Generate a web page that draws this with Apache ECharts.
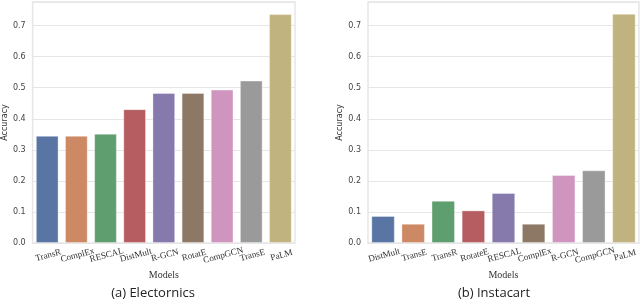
<!DOCTYPE html>
<html>
<head>
<meta charset="utf-8">
<script src="https://cdn.jsdelivr.net/npm/echarts@6/dist/echarts.min.js"></script>
<style>html,body{margin:0;padding:0;background:#fff}#c{width:640px;height:300px}</style>
</head>
<body>
<div id="c"></div>
<script>
const catsA = ['TransR','ComplEx','RESCAL','DistMult','R-GCN','RotatE','CompGCN','TransE','PaLM'];
const valsA = [0.345, 0.345, 0.352, 0.431, 0.483, 0.483, 0.494, 0.523, 0.737];
const catsB = ['DistMult','TransE','TransR','RotateE','RESCAL','ComplEx','R-GCN','CompGCN','PaLM'];
const valsB = [0.087, 0.062, 0.136, 0.105, 0.161, 0.062, 0.219, 0.234, 0.738];
const yTicks = [0,0.1,0.2,0.3,0.4,0.5,0.6,0.7];
const palette = ['#5975a4','#cc8963','#5f9e6e','#b55d60','#857aab','#8d7866','#d095bf','#9a9a9a','#c1b37f'];
const captions = ['(a) Electornics','(b) Instacart'];

const chart = echarts.init(document.getElementById('c'));
const grids = [
  {left:25, right:345, top:2, bottom:57, show:true, borderColor:'#e6e6e6', borderWidth:1.5, backgroundColor:'#fff'},
  {left:368, right:1, top:2, bottom:57, show:true, borderColor:'#e6e6e6', borderWidth:1.5, backgroundColor:'#fff'}
];
function xAx(i, cats){
  return {type:'category', gridIndex:i, data:cats,
    name:'Models', nameLocation:'middle', nameGap:21,
    nameTextStyle:{fontFamily:'Liberation Serif', fontSize:10, color:'#333'},
    axisLine:{show:false}, axisTick:{show:false},
    axisLabel:{interval:0, rotate:15, align:'center', verticalAlign:'top', margin:8,
      fontFamily:'Liberation Serif', fontSize:9, color:'#333'}};
}
function yAx(i, gap){
  return {type:'value', gridIndex:i, min:0, max:0.776, interval:0.1,
    name:'Accuracy', nameLocation:'middle', nameGap:gap,
    nameTextStyle:{fontFamily:'DejaVu Sans', fontSize:8, color:'#333'},
    axisLine:{show:false}, axisTick:{show:false},
    splitLine:{lineStyle:{color:'#e6e6e6', width:1}},
    axisLabel:{margin:7, fontFamily:'DejaVu Sans', fontSize:8, color:'#444',
      formatter:v => yTicks.some(t=>Math.abs(t-v)<1e-9) ? v.toFixed(1) : '',
      showMaxLabel:false}};
}
function ser(i, vals){
  return {type:'bar', xAxisIndex:i, yAxisIndex:i, barWidth:'78%',
    data: vals.map((v,k)=>({value:v, itemStyle:{color:palette[k]}})),
    itemStyle:{borderColor:'rgba(255,255,255,0.35)', borderWidth:1}};
}
chart.setOption({
  animation:false,
  title:[
    {text:captions[0], left:148, top:282, textAlign:'center', textStyle:{fontFamily:'Open Sans', fontSize:13, fontWeight:'normal', color:'#222'}},
    {text:captions[1], left:489, top:282, textAlign:'center', textStyle:{fontFamily:'Open Sans', fontSize:13, fontWeight:'normal', color:'#222'}}
  ],
  grid:grids,
  xAxis:[xAx(0,catsA), xAx(1,catsB)],
  yAxis:[yAx(0,17), yAx(1,19)],
  series:[ser(0,valsA), ser(1,valsB)]
});
</script>
</body>
</html>
